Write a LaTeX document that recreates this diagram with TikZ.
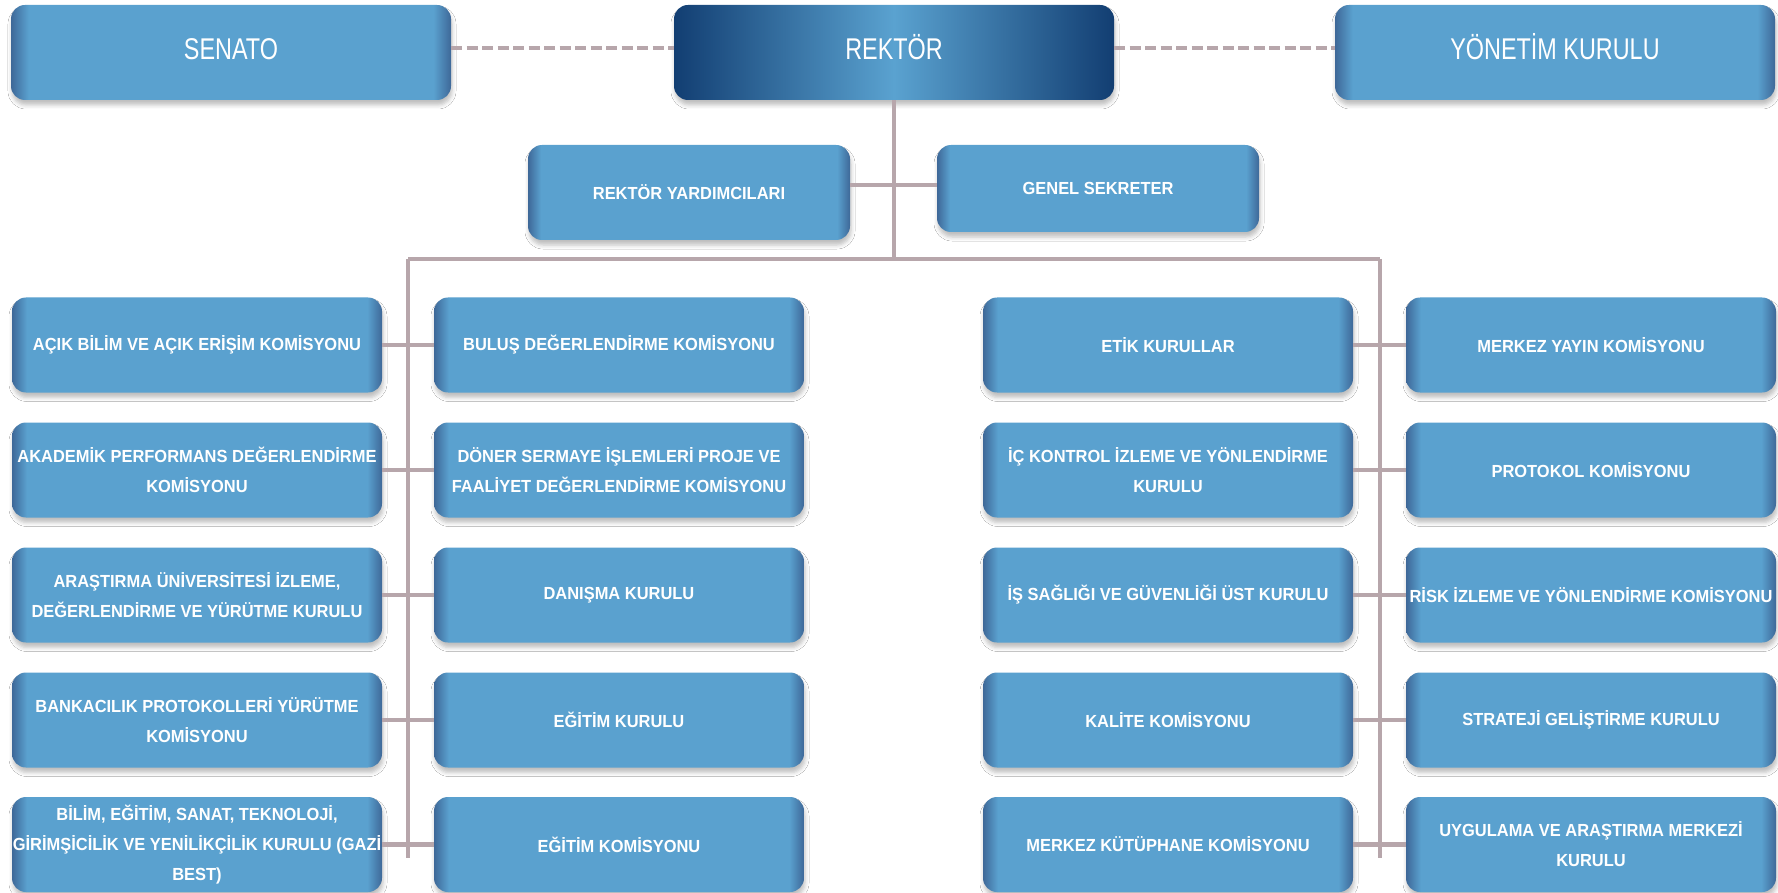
\documentclass[tikz,border=0pt]{standalone}
\usepackage{fontspec}
\setmainfont{Liberation Sans}
\newfontfamily\topfont{Liberation Sans}[FakeStretch=0.78]
\newfontfamily\boxfont{Liberation Sans}[FakeStretch=0.94]
\usetikzlibrary{shadows.blur,calc}
\definecolor{boxmain}{RGB}{90,161,207}
\definecolor{boxedge}{RGB}{62,104,152}
\definecolor{rkdark}{RGB}{18,62,114}
\definecolor{rklight}{RGB}{90,162,208}
\definecolor{conncol}{RGB}{183,166,171}
\pgfdeclarehorizontalshading{boxsh}{100bp}{color(0bp)=(boxedge); color(25bp)=(boxedge); color(27bp)=(boxmain); color(73bp)=(boxmain); color(75bp)=(boxedge); color(100bp)=(boxedge)}
\pgfdeclarehorizontalshading{rksh}{100bp}{color(0bp)=(rkdark); color(25bp)=(rkdark); color(50bp)=(rklight); color(75bp)=(rkdark); color(100bp)=(rkdark)}
\tikzset{
  unit/.style={rounded corners=14pt, shade, shading=boxsh, text=white, align=center, inner xsep=0pt, inner ysep=2pt,
    blur shadow={shadow xshift=1pt, shadow yshift=-5pt, shadow blur radius=4pt, shadow opacity=25}},
  topbox/.style={unit, minimum width=440pt, minimum height=95pt, text height=22pt, text depth=7pt, font=\topfont\fontsize{30}{36}\selectfont},
  subbox/.style={unit, minimum width=322pt, minimum height=95pt, font=\boxfont\bfseries\fontsize{17.5}{30}\selectfont},
  combox/.style={unit, minimum width=370pt, minimum height=95pt, font=\boxfont\bfseries\fontsize{17.5}{30}\selectfont},
  conn/.style={draw=conncol, line width=4.5pt},
  dconn/.style={draw=conncol, line width=4pt, dash pattern=on 11pt off 4.5pt},
}
\begin{document}
\begin{tikzpicture}[x=1pt,y=-1pt]
\fill[white] (0,0) rectangle (1778,893);
\useasboundingbox (0,0) rectangle (1778,893);
\begin{scope}
\clip (0,0) rectangle (1778,893);
% top row
\node[topbox] (senato) at (231,52.5) {SENATO};
\node[topbox, shading=rksh] (rektor) at (894,52.5) {REKTÖR};
\node[topbox] (yonetim) at (1555,52.5) {YÖNETİM KURULU};
% second row
\node[subbox] (ry) at (689,192.5) {REKTÖR YARDIMCILARI};
\node[subbox, minimum height=87pt] (gs) at (1098,188.5) {GENEL SEKRETER};
% column A
\node[combox] (a1) at (197,345) {AÇIK BİLİM VE AÇIK ERİŞİM KOMİSYONU};
\node[combox] (a2) at (197,470) {AKADEMİK PERFORMANS DEĞERLENDİRME\\KOMİSYONU};
\node[combox] (a3) at (197,595) {ARAŞTIRMA ÜNİVERSİTESİ İZLEME,\\DEĞERLENDİRME VE YÜRÜTME KURULU};
\node[combox] (a4) at (197,720) {BANKACILIK PROTOKOLLERİ YÜRÜTME\\KOMİSYONU};
\node[combox] (a5) at (197,844.5) {BİLİM, EĞİTİM, SANAT, TEKNOLOJİ,\\GİRİMŞİCİLİK VE YENİLİKÇİLİK KURULU (GAZİ\\BEST)};
% column B
\node[combox] (b1) at (619,345) {BULUŞ DEĞERLENDİRME KOMİSYONU};
\node[combox] (b2) at (619,470) {DÖNER SERMAYE İŞLEMLERİ PROJE VE\\FAALİYET DEĞERLENDİRME KOMİSYONU};
\node[combox] (b3) at (619,595) {DANIŞMA KURULU};
\node[combox] (b4) at (619,720) {EĞİTİM KURULU};
\node[combox] (b5) at (619,844.5) {EĞİTİM KOMİSYONU};
% column C
\node[combox] (c1) at (1168,345) {ETİK KURULLAR};
\node[combox] (c2) at (1168,470) {İÇ KONTROL İZLEME VE YÖNLENDİRME\\KURULU};
\node[combox] (c3) at (1168,595) {İŞ SAĞLIĞI VE GÜVENLİĞİ ÜST KURULU};
\node[combox] (c4) at (1168,720) {KALİTE KOMİSYONU};
\node[combox] (c5) at (1168,844.5) {MERKEZ KÜTÜPHANE KOMİSYONU};
% column D
\node[combox] (d1) at (1591,345) {MERKEZ YAYIN KOMİSYONU};
\node[combox] (d2) at (1591,470) {PROTOKOL KOMİSYONU};
\node[combox] (d3) at (1591,595) {RİSK İZLEME VE YÖNLENDİRME KOMİSYONU};
\node[combox] (d4) at (1591,720) {STRATEJİ GELİŞTİRME KURULU};
\node[combox] (d5) at (1591,844.5) {UYGULAMA VE ARAŞTIRMA MERKEZİ\\KURULU};
\end{scope}
% coordinates
\coordinate (dy) at (0,48);
\coordinate (jy) at (0,185);
\coordinate (bus) at (894,259);
\coordinate (busL) at (408,259);
\coordinate (busR) at (1380,259);
\coordinate (endL) at (408,858);
\coordinate (endR) at (1380,858);
% connectors
\draw[dconn] (senato.east |- dy) -- (rektor.west |- dy);
\draw[dconn] (rektor.east |- dy) -- (yonetim.west |- dy);
\draw[conn] (rektor.south) -- (bus);
\draw[conn] (ry.east |- jy) -- (gs.west |- jy);
\draw[conn] (busL) -- (busR);
\draw[conn] (busL) -- (endL);
\draw[conn] (busR) -- (endR);
\foreach \i in {1,...,5}{
  \draw[conn] (a\i.east) -- (b\i.west);
  \draw[conn] (c\i.east) -- (d\i.west);
}
\end{tikzpicture}
\end{document}
